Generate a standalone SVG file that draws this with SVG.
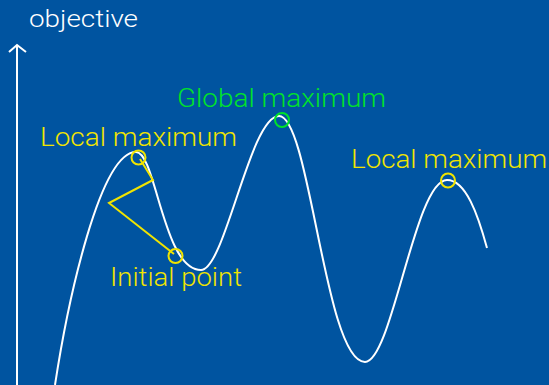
<svg xmlns="http://www.w3.org/2000/svg" width="549" height="385" viewBox="0 0 549 385">
<style>
.lbl{font-family:Roboto,"Liberation Sans",Arial,sans-serif;font-weight:300;font-size:26px}
.y{fill:#F0E400}
.g{fill:#00E22A}
.ring{fill:none;stroke-width:2}
</style>
<rect width="549" height="385" fill="#0054A0"/>
<g id="axis" fill="none" stroke="#fff" stroke-width="2">
<line x1="17" y1="45" x2="17" y2="385"/>
<polyline points="9,52 17,45 26,52"/>
<text x="29" y="26.5" class="lbl" style="font-size:23.5px" fill="#fff" stroke="none" textLength="109" lengthAdjust="spacingAndGlyphs">objective</text>
</g>
<g id="connectors" fill="none">
<path id="landscape" stroke="#fff" stroke-width="2" d="M55,385 C68,300 100,152 136,152 C156,152 163,270 201,270 C225,270 250,116 279,116 C310,116 325,362 365,362 C392,362 415,180 447,180 C466,180 478,215 487,248"/>
<polyline id="path" stroke="#F0E400" stroke-width="2" points="140,159 153,180 109,203 174,254"/>
</g>
<g id="local-max-left">
<circle cx="138.5" cy="157.5" r="7" class="ring" stroke="#F0E400"/>
<text x="40" y="145.5" class="lbl y" textLength="197" lengthAdjust="spacingAndGlyphs">Local maximum</text>
</g>
<g id="global-max">
<circle cx="282" cy="120" r="7" class="ring" stroke="#00E22A"/>
<text x="177" y="107" class="lbl g" textLength="209" lengthAdjust="spacingAndGlyphs">Global maximum</text>
</g>
<g id="local-max-right">
<circle cx="448" cy="180.5" r="7" class="ring" stroke="#F0E400"/>
<text x="351" y="168" class="lbl y" textLength="196" lengthAdjust="spacingAndGlyphs">Local maximum</text>
</g>
<g id="initial-point">
<circle cx="175.5" cy="256" r="7" class="ring" stroke="#F0E400"/>
<text x="110" y="286" class="lbl y" textLength="132" lengthAdjust="spacingAndGlyphs">Initial point</text>
</g>
</svg>
